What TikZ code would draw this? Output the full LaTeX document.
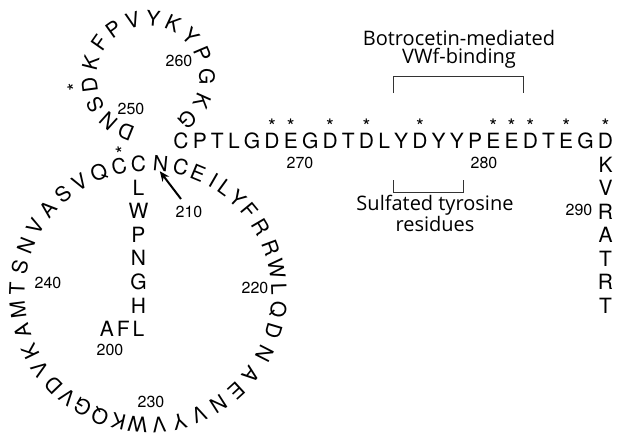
\documentclass[tikz,border=0pt]{standalone}
\usepackage{fontspec}
\setmainfont{TeX Gyre Heros}
\newfontfamily\labelfont{Open Sans}
\usetikzlibrary{positioning,arrows.meta}

\begin{document}
\begin{tikzpicture}[x=1pt,y=-1pt,
  res/.style={font=\fontsize{21}{21}\selectfont,inner sep=0pt,outer sep=0pt},
  ast/.style={font=\fontsize{20}{20}\selectfont,inner sep=0pt,outer sep=0pt,anchor=base},
  num/.style={font=\fontsize{16}{16}\selectfont,inner sep=0pt},
  lbl/.style={font=\labelfont\fontsize{20}{17.7}\selectfont,align=center,inner sep=0pt},
  brk/.style={draw=black!80,line width=0.7pt},
  pointer/.style={line width=2pt,-{Stealth[length=10pt,width=8.5pt]}},
]
\useasboundingbox (0,0) rectangle (617,440);

% stem 200-209
\node[res,anchor=base] (r209) at (138.5,171.5) {C};
\foreach \res/\idx/\prv in {L/208/209,W/207/208,P/206/207,N/205/206,G/204/205,H/203/204,L/202/203}
  \node[res,anchor=base] (r\idx) at ([yshift=-23.6pt]r\prv.base) {\res};
\node[res,base left=3pt of r202] (r201) {F};
\node[res,base left=3pt of r201] (r200) {A};

% large loop 210-248
\begin{scope}[shift={(148,294)},y=1pt]
\foreach \ang/\res/\idx in {84.5/N/210,75.5/C/211,67.5/E/212,60/I/213,54/L/214,47/Y/215,
    39.5/F/216,30.5/R/217,20.5/R/218,11/W/219,2/L/220,-7/Q/221,-16.5/D/222,-27/N/223,
    -38/A/224,-47.5/E/225,-57.5/N/226,-67/V/227,-76/Y/228,-85/V/229,-94.5/W/230,
    -103/K/231,-111.5/Q/232,-120/G/233,-128/V/234,-136/D/235,-145/V/236,-154/K/237,
    -163.5/A/238,-173/M/239,-182.5/T/240,-192/S/241,-201.5/N/242,-211/V/243,
    -220.5/A/244,-229.5/S/245,-238.5/V/246,-248/Q/247,-257.3/C/248}
  \node[res,rotate=\ang-90] (r\idx) at (\ang:131) {\res};
\end{scope}

% small loop 249-263
\begin{scope}[shift={(148,77)},y=1pt]
\foreach \ang/\res/\idx in {248/D/249,228/N/250,208/S/251,187.5/D/252,166/K/253,145/F/254,
    125.5/P/255,105/V/256,85/Y/257,65/K/258,44/Y/259,23/P/260,0/G/261,-24/K/262,-47/G/263}
  \node[res,rotate=\ang-90] (r\idx) at (\ang:59) {\res};
\end{scope}

% linear part 264-287
\node[res,anchor=base] (r264) at (181,148.5) {C};
\foreach \res [count=\idx from 265] in {P,T,L,G,D,E,G,D,T,D,L,Y,D,Y,Y,P,E,E,D,T,E,G,D} {
  \pgfmathtruncatemacro\prv{\idx-1}
  \node[res,base right=4.2pt of r\prv] (r\idx) {\res};
}

% C-terminal stem 288-294
\foreach \res [count=\idx from 288] in {K,V,R,A,T,R,T} {
  \pgfmathtruncatemacro\prv{\idx-1}
  \node[res,anchor=base] (r\idx) at ([yshift=-23.5pt]r\prv.base) {\res};
}

% acidic residues
\foreach \idx/\rot in {249/158,252/97.5,269/0,270/0,272/0,274/0,277/0,281/0,282/0,283/0,285/0,287/0}
  \node[ast,rotate=\rot] (s\idx) at (r\idx.north) {*};

% numbering
\node[num] (l200) at (110,350) {200};
\node[num] (l210) at (189,212) {210};
\node[num] (l220) at (255,288) {220};
\node[num] (l230) at (151,402) {230};
\node[num] (l240) at (48,283) {240};
\node[num] (l250) at (131,109) {250};
\node[num] (l260) at (179,61) {260};
\node[num] (l270) at (300,163) {270};
\node[num] (l280) at (484,163) {280};
\node[num] (l290) at (579,210) {290};

\coordinate (tail210) at (181,199);
\draw[pointer] (tail210) -- (r210.south);

% binding regions
\node[lbl] (botro) at (459,49) {Botrocetin-mediated\\VWf-binding};
\coordinate (bt1) at (393,93);
\coordinate (bt2) at (523,93);
\draw[brk] (bt1) -- ++(0,-17) -| (bt2);

\node[lbl] (sulf) at (435,213) {Sulfated tyrosine\\residues};
\coordinate (bs1) at (393,180);
\coordinate (bs2) at (463,180);
\draw[brk] (bs1) -- ++(0,12) -| (bs2);
\end{tikzpicture}
\end{document}
